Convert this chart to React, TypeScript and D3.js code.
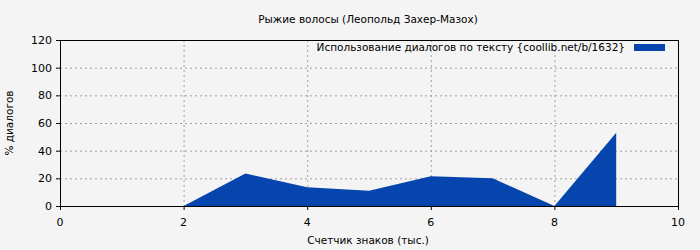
import React from "react";
import * as d3 from "d3";

const xValues = [2, 3, 4, 5, 6, 7, 8, 9];
const yValues = [0, 23.5, 13.5, 11, 21.5, 20, 0, 53];
const xTicks = [0, 2, 4, 6, 8, 10];
const yTicks = [0, 20, 40, 60, 80, 100, 120];
const title = "Рыжие волосы (Леопольд Захер-Мазох)";
const legendLabel = "Использование диалогов по тексту {coollib.net/b/1632}";
const xLabel = "Счетчик знаков (тыс.)";
const yLabel = "% диалогов";

export default function App() {
  const W = 700, H = 250;
  const left = 60, right = 678, top = 40, bottom = 206;
  const x = d3.scaleLinear().domain([0, 10]).range([left, right]);
  const y = d3.scaleLinear().domain([0, 120]).range([bottom, top]);
  const data = xValues.map((v, i) => [v, yValues[i]] as [number, number]);
  const area = d3.area<[number, number]>().x(d => x(d[0])).y0(y(0)).y1(d => y(d[1]));
  const font = "DejaVu Sans, sans-serif";
  const fs = 10.5;
  return (
    <svg width={W} height={H} style={{ position: "absolute", left: 0, top: 0 }} fontFamily={font}>
      <rect x={0} y={0} width={W} height={H} fill="#f4f4f4" />
      {xTicks.filter(t => t > 0 && t < 10).map(t => (
        <line key={"gx" + t} x1={x(t) + 0.5} x2={x(t) + 0.5} y1={top} y2={bottom} stroke="#a0a0a0" strokeDasharray="2,3" />
      ))}
      {yTicks.filter(t => t > 0 && t < 120).map(t => (
        <line key={"gy" + t} x1={left} x2={right} y1={y(t) + 0.5} y2={y(t) + 0.5} stroke="#a0a0a0" strokeDasharray="2,3" />
      ))}
      <path d={area(data) || ""} fill="#0645ad" />
      <rect x={left + 0.5} y={top + 0.5} width={right - left} height={bottom - top} fill="none" stroke="#000" />
      {yTicks.map(t => (
        <g key={"yt" + t}>
          <line x1={left - 4} x2={left} y1={y(t) + 0.5} y2={y(t) + 0.5} stroke="#000" />
          <text x={left - 8} y={y(t) + 4} fontSize={11} textAnchor="end" fill="#000">{t}</text>
        </g>
      ))}
      {xTicks.map(t => (
        <g key={"xt" + t}>
          <line x1={x(t) + 0.5} x2={x(t) + 0.5} y1={bottom} y2={bottom + 4} stroke="#000" />
          <text x={x(t)} y={bottom + 20} fontSize={11} textAnchor="middle" fill="#000">{t}</text>
        </g>
      ))}
      <text x={368} y={23} fontSize={fs} textAnchor="middle" fill="#000">{title}</text>
      <text x={625} y={51} fontSize={fs} textAnchor="end" fill="#000">{legendLabel}</text>
      <rect x={634} y={44} width={31} height={7} fill="#0645ad" />
      <text x={368} y={244} fontSize={fs} textAnchor="middle" fill="#000">{xLabel}</text>
      <text transform={`translate(13,${(top + bottom) / 2}) rotate(-90)`} fontSize={fs} textAnchor="middle" fill="#000">{yLabel}</text>
    </svg>
  );
}
